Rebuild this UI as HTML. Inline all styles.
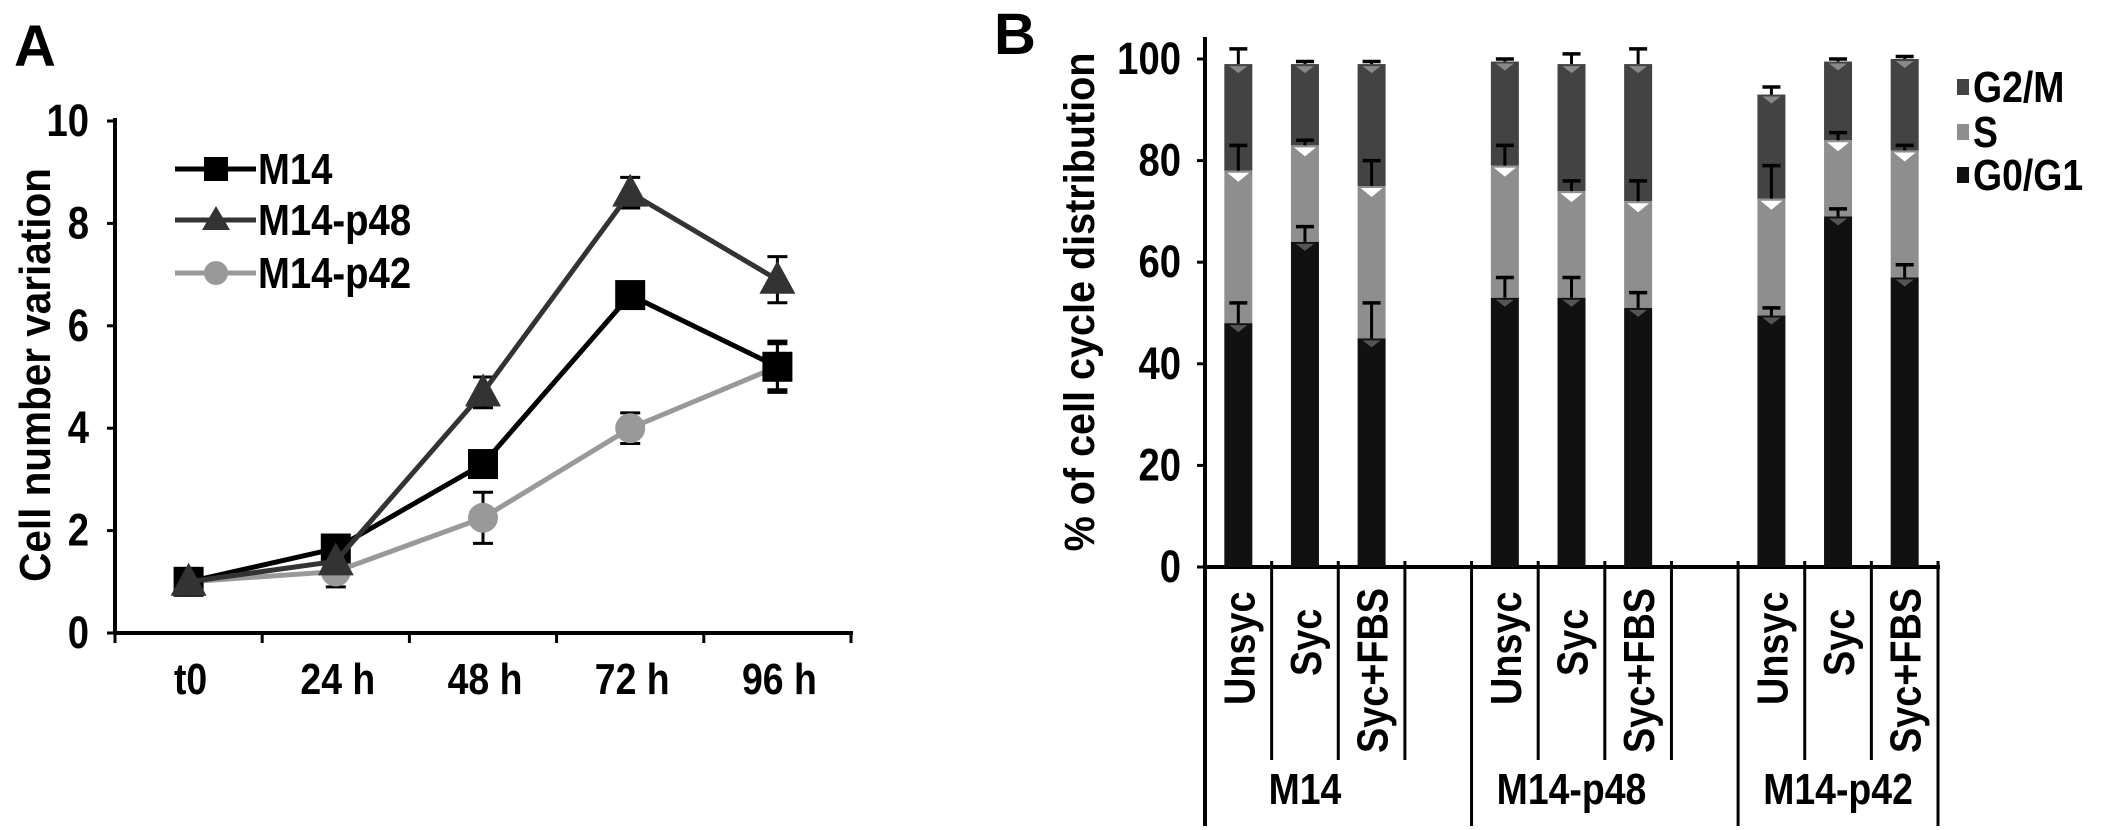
<!DOCTYPE html>
<html><head><meta charset="utf-8"><style>
html,body{margin:0;padding:0;background:#fff;}
svg{display:block;font-family:"Liberation Sans",Arial,sans-serif;font-weight:bold;}
</style></head><body>
<svg id="fig" width="2110" height="830" viewBox="0 0 2110 830" xmlns="http://www.w3.org/2000/svg">
<text x="14" y="66" font-size="58">A</text>
<text x="994" y="54" font-size="58">B</text>
<g id="pa"></g>
<g id="pb"></g>
</svg>
<script>
// ---- Panel A data ----
const timeLabels = ["t0","24 h","48 h","72 h","96 h"];
const yTicksA = [0,2,4,6,8,10];
const seriesNames = ["M14","M14-p48","M14-p42"];
const m14Vals = [1.0,1.65,3.3,6.6,5.2];
const m14Err = [0.1,0.15,0.15,0.15,0.45];
const p48Vals = [1.0,1.4,4.7,8.6,6.9];
const p48Err = [0.1,0.1,0.3,0.3,0.45];
const p42Vals = [1.0,1.2,2.25,4.0,5.2];
const p42Err = [0.1,0.3,0.5,0.3,0.5];
// ---- Panel B data ----
const groupNames = ["M14","M14-p48","M14-p42"];
const condNames = ["Unsyc","Syc","Syc+FBS"];
const g0g1 = [48,64,45, 53,53,51, 49.5,69,57];
const g0g1Err = [4,3,7, 4,4,3, 1.5,1.5,2.5];
const sPhase = [30,19,30, 26,21,21, 23,15,25];
const sErr = [5,1,5, 4,2,4, 6.5,1.5,1];
const g2m = [21,16,24, 20.5,25,27, 20.5,15.5,18];
const g2mErr = [3,0.5,0.5, 0.5,2,3, 1.5,0.5,0.5];
const yTicksB = [0,20,40,60,80,100];
const legendNames = ["G2/M","S","G0/G1"];

const NS="http://www.w3.org/2000/svg";
function mk(parent,tag,attrs,txt){const e=document.createElementNS(NS,tag);for(const k in attrs)e.setAttribute(k,attrs[k]);if(txt!==undefined)e.textContent=txt;parent.appendChild(e);return e;}
function tx(parent,x,y,size,str,anchor,rot,sx){
  return mk(parent,'text',{x:0,y:0,'font-size':size,'text-anchor':anchor||'start',
    transform:`translate(${x},${y}) rotate(${rot||0}) scale(${sx||0.85},1)`},str);
}

// ===== Panel A =====
const pa=document.getElementById('pa');
const ax0=115, ax1=851, ay0=633, ay10=121;
const yA=v=>ay0+(ay10-ay0)*v/10;
const stepA=(ax1-ax0)/5;
const xA=i=>ax0+stepA*(i+0.5);
let e;
e=mk(pa,'line',{x1:ax0,y1:ay10-3,x2:ax0,y2:ay0+2,stroke:'#000','stroke-width':4});


e=mk(pa,'line',{x1:ax0-2,y1:ay0,x2:ax1+2,y2:ay0,stroke:'#000','stroke-width':4});


yTicksA.forEach(v=>{
  mk(pa,'line',{x1:ax0-8,y1:yA(v),x2:ax0,y2:yA(v),stroke:'#000','stroke-width':3});
  e=tx(pa,ax0-26,yA(v)+15,45,String(v),'end');
  
  
});
for(let i=0;i<=5;i++){mk(pa,'line',{x1:ax0+stepA*i,y1:ay0,x2:ax0+stepA*i,y2:ay0+10,stroke:'#000','stroke-width':3});}
timeLabels.forEach((t,i)=>{
  e=tx(pa,xA(i)+2,694,44,t,'middle');
  
  
});
e=tx(pa,50,375,44,'Cell number variation','middle',-90,0.92);



const seriesA=[
 {v:m14Vals,err:m14Err,col:'#000',mark:'sq'},
 {v:p48Vals,err:p48Err,col:'#333',mark:'tri'},
 {v:p42Vals,err:p42Err,col:'#999',mark:'circ'}];
function marker(g,type,x,y,col){
  if(type==='sq') return mk(g,'rect',{x:x-15,y:y-15,width:30,height:30,fill:col});
  if(type==='tri') return mk(g,'polygon',{points:`${x},${y-19} ${x+18},${y+14} ${x-18},${y+14}`,fill:col});
  return mk(g,'circle',{cx:x,cy:y,r:15,fill:col});
}
[2,0,1].forEach(si=>{
  const s=seriesA[si];
  const g=mk(pa,'g',{});
  
  
  s.v.forEach((v,i)=>{
    const x=xA(i);
    mk(g,'line',{x1:x,y1:yA(v+s.err[i]),x2:x,y2:yA(v-s.err[i]),stroke:'#000','stroke-width':3});
    mk(g,'line',{x1:x-10,y1:yA(v+s.err[i]),x2:x+10,y2:yA(v+s.err[i]),stroke:'#000','stroke-width':3});
    mk(g,'line',{x1:x-10,y1:yA(v-s.err[i]),x2:x+10,y2:yA(v-s.err[i]),stroke:'#000','stroke-width':3});
  });
  mk(g,'polyline',{points:s.v.map((v,i)=>xA(i)+','+yA(v)).join(' '),fill:'none',stroke:s.col,'stroke-width':5});
  s.v.forEach((v,i)=>{
    const m=marker(g,s.mark,xA(i),yA(v),s.col);
    
    
  });
});
const legA=[169,220,273];
seriesA.forEach((s,i)=>{
  const g=mk(pa,'g',{});
  
  
  mk(g,'line',{x1:175,y1:legA[i],x2:256,y2:legA[i],stroke:s.col,'stroke-width':5});
  if(s.mark==='circ') mk(g,'circle',{cx:216,cy:legA[i],r:12,fill:s.col});
  else if(s.mark==='sq') mk(g,'rect',{x:204,y:legA[i]-12,width:24,height:24,fill:s.col});
  else mk(g,'polygon',{points:`216,${legA[i]-14} 230,${legA[i]+10} 202,${legA[i]+10}`,fill:s.col});
  tx(g,258,legA[i]+15,44,seriesNames[i],'start',0,0.87);
});

// ===== Panel B =====
const pb=document.getElementById('pb');
const bx0=1205, by0=567, by100=59;
const slotW=(1938-bx0)/11;
const yB=v=>by0+(by100-by0)*v/100;
const slotOf=i=>Math.floor(i/3)*4+(i%3);
const xB=i=>bx0+slotW*(slotOf(i)+0.5);
const bw=28;
e=mk(pb,'line',{x1:bx0,y1:by100-22,x2:bx0,y2:826,stroke:'#000','stroke-width':4});


e=mk(pb,'line',{x1:bx0-2,y1:by0,x2:1940,y2:by0,stroke:'#000','stroke-width':4});


yTicksB.forEach(v=>{
  mk(pb,'line',{x1:bx0-8,y1:yB(v),x2:bx0,y2:yB(v),stroke:'#000','stroke-width':3});
  e=tx(pb,1181,yB(v)+15,45,String(v),'end');
  
  
});
for(let k=1;k<=11;k++){
  const x=bx0+slotW*k;
  const long=(k===4||k===8||k===11);
  mk(pb,'line',{x1:x,y1:by0-6,x2:x,y2:long?826:760,stroke:'#000','stroke-width':3});
}
e=tx(pb,1094,302,43,'% of cell cycle distribution','middle',-90,0.92);


const colG0='#111', colS='#8e8e8e', colG2='#434343';
g0g1.forEach((v,i)=>{
  const x=xB(i);
  const g=mk(pb,'g',{});
  
  
  const t1=v, t2=v+sPhase[i], t3=t2+g2m[i];
  mk(g,'rect',{x:x-bw/2,y:yB(t3),width:bw,height:yB(t2)-yB(t3),fill:colG2});
  mk(g,'rect',{x:x-bw/2,y:yB(t2),width:bw,height:yB(t1)-yB(t2),fill:colS});
  mk(g,'rect',{x:x-bw/2,y:yB(t1),width:bw,height:yB(0)-yB(t1),fill:colG0});
  mk(g,'polygon',{points:`${x-9},${yB(t3)+2} ${x+9},${yB(t3)+2} ${x},${yB(t3)+9}`,fill:'#888'});
  mk(g,'polygon',{points:`${x-11},${yB(t2)+2} ${x+11},${yB(t2)+2} ${x},${yB(t2)+11}`,fill:'#fff'});
  mk(g,'polygon',{points:`${x-9},${yB(t1)+2} ${x+9},${yB(t1)+2} ${x},${yB(t1)+9}`,fill:'#555'});
  [[t1,g0g1Err[i]],[t2,sErr[i]],[t3,g2mErr[i]]].forEach(([t,er])=>{
    mk(g,'line',{x1:x,y1:yB(t),x2:x,y2:yB(t+er),stroke:'#000','stroke-width':3});
    mk(g,'line',{x1:x-9,y1:yB(t+er),x2:x+9,y2:yB(t+er),stroke:'#000','stroke-width':3.5});
  });
  const c=condNames[i%3];
  e=tx(pb,x+16,c==='Syc'?676:(c==='Unsyc'?705:753),44,c,'start',-90,0.86);
  
  
});
groupNames.forEach((n,gi)=>{
  const cx=bx0+slotW*(gi*4+1.5);
  e=tx(pb,cx,804,44,n,'middle');
  
  
});
const legCols=[colG2,colS,colG0], legY=[87,132,175];
legendNames.forEach((n,i)=>{
  const g=mk(pb,'g',{});
  
  
  mk(g,'rect',{x:1957,y:legY[i]-8,width:12,height:16,fill:legCols[i]});
  tx(g,1973,legY[i]+15,44,n,'start',0,0.85);
});
</script>
</body></html>
